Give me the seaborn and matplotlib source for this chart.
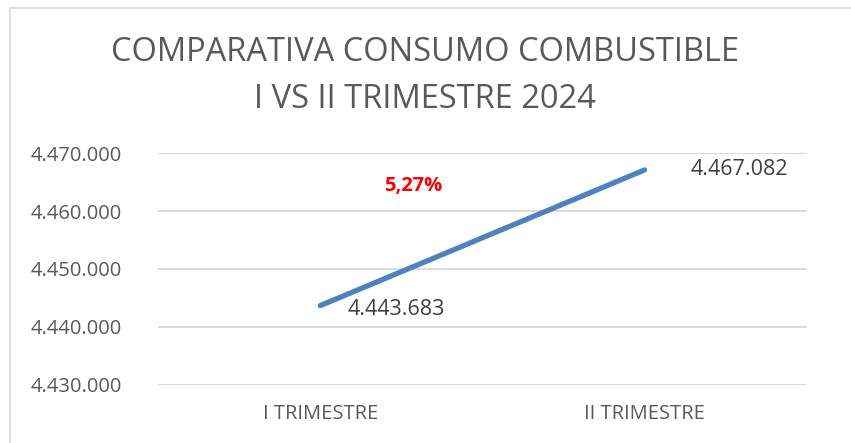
import seaborn as sns
import matplotlib.pyplot as plt
import matplotlib.ticker as mticker
from matplotlib.patches import Rectangle
import pandas as pd

# data
trimestres = ["I TRIMESTRE", "II TRIMESTRE"]
consumo = [4443683, 4467082]
variacion = "5,27%"
titulo = "COMPARATIVA CONSUMO COMBUSTIBLE\nI VS II TRIMESTRE 2024"

df = pd.DataFrame({"Trimestre": trimestres, "Consumo": consumo})

sns.set_style("white")
plt.rcParams["font.family"] = ["Open Sans", "DejaVu Sans"]

fig = plt.figure(figsize=(8.51, 4.43), dpi=100)
ax = fig.add_axes([0.1857, 0.131, 0.948 - 0.1857, 0.6546 - 0.131])

# chart border (cut at right/bottom like the reference)
fig.patches.append(Rectangle((10 / 851, -0.1), 1.2, 1 - 8 / 443 + 0.1,
                             transform=fig.transFigure, fill=False,
                             edgecolor="#D9D9D9", linewidth=1.2))

sns.lineplot(data=df, x="Trimestre", y="Consumo", ax=ax, color="#4F81BD",
             linewidth=3.8, solid_capstyle="round", sort=False)

ax.set_xlim(-0.5, 1.5)
ax.set_ylim(4430000, 4470000)
ax.yaxis.set_major_locator(mticker.MultipleLocator(10000))
ax.yaxis.set_major_formatter(mticker.FuncFormatter(lambda v, p: f"{v:,.0f}".replace(",", ".")))
ax.grid(axis="y", color="#D9D9D9", linewidth=1.3)
ax.set_axisbelow(True)
for s in ax.spines.values():
    s.set_visible(False)
ax.tick_params(axis="y", length=0, pad=26, labelsize=14.5, labelcolor="#595959")
ax.tick_params(axis="x", length=0, pad=14, labelsize=14.5, labelcolor="#595959")
ax.set_xlabel("")
ax.set_ylabel("")

# data labels
fmt = lambda v: f"{v:,.0f}".replace(",", ".")
ax.annotate(fmt(consumo[0]), (0, consumo[0]), xytext=(20, -3), textcoords="offset points",
            ha="left", va="center", fontsize=15.5, color="#404040")
ax.annotate(fmt(consumo[1]), (1, consumo[1]), xytext=(33, 0), textcoords="offset points",
            ha="left", va="center", fontsize=15.5, color="#404040")
ax.text(0.286, 4464300, variacion, ha="center", va="center", fontsize=14.5,
        fontweight="bold", color="#FF0000")

fig.text(425 / 851, 1 - 76 / 443, titulo, ha="center", va="center",
         fontsize=23.5, color="#595959", linespacing=1.55)

plt.savefig("out.png", dpi=100)
plt.close()
